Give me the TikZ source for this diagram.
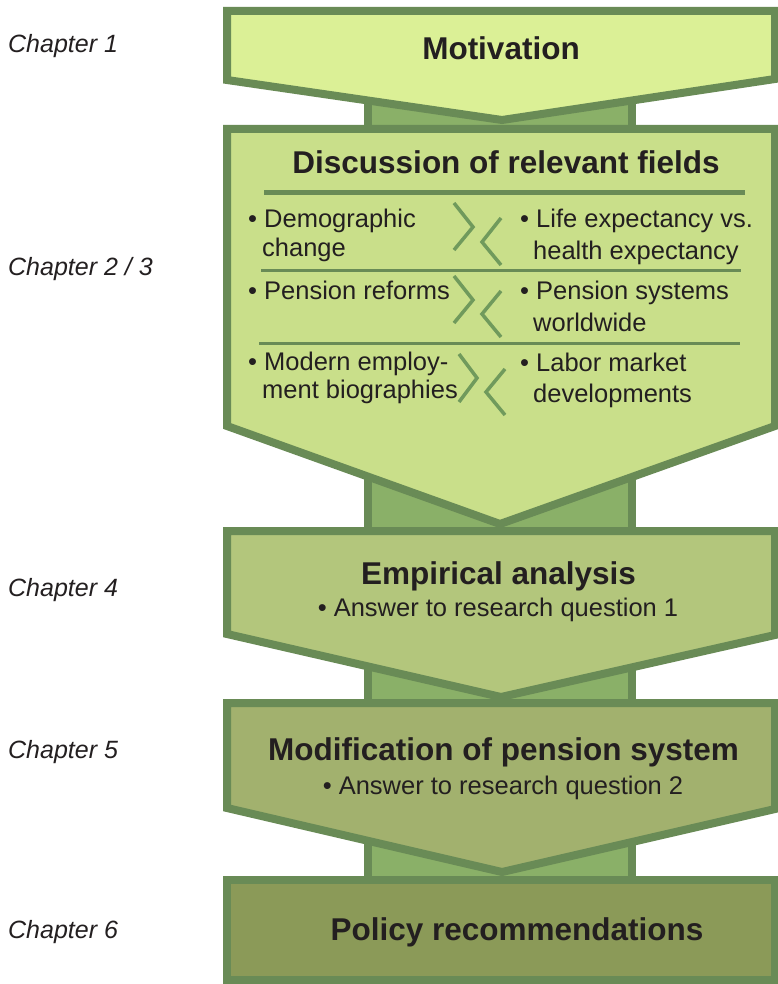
\documentclass[tikz,border=0pt]{standalone}
\usepackage{fontspec}
\setmainfont{Liberation Sans}
\definecolor{frame}{RGB}{105,139,86}
\definecolor{chevcol}{RGB}{112,154,92}
\definecolor{linkfill}{RGB}{138,176,104}
\definecolor{fillA}{RGB}{219,240,150}
\definecolor{fillB}{RGB}{201,223,138}
\definecolor{fillC}{RGB}{179,198,124}
\definecolor{fillD}{RGB}{162,177,110}
\definecolor{fillE}{RGB}{139,154,88}
\definecolor{ink}{RGB}{35,31,32}
\tikzset{
  stage/.style={draw=frame, line width=8pt, line join=miter},
  link/.style={draw=frame, fill=linkfill, line width=8pt},
  title/.style={font=\fontsize{31.5}{36}\selectfont\bfseries, text=ink, inner sep=0pt, anchor=base},
  subtitle/.style={font=\fontsize{25.5}{30}\selectfont, text=ink, inner sep=0pt, anchor=base},
  body/.style={font=\fontsize{25.5}{30}\selectfont, text=ink, inner sep=0pt, anchor=base west},
  chap/.style={font=\fontsize{25}{30}\selectfont\itshape, text=ink, inner sep=0pt, anchor=base west},
  chev/.style={draw=chevcol, line width=3.5pt, line join=miter},
}
\begin{document}
\begin{tikzpicture}[x=1pt,y=-1pt]
\fill[white] (0,0) rectangle (778,984);
\useasboundingbox (0,0) rectangle (778,984);

% connecting bars behind the stages
\draw[link] (368,60)  rectangle (632,129);
\draw[link] (368,400) rectangle (632,531);
\draw[link] (368,600) rectangle (632,703);
\draw[link] (368,780) rectangle (632,880);

% stages
\draw[stage, fill=fillA] (227,11) -- (775,11) -- (775,79) -- (502,120) -- (227,80) -- cycle;
\draw[stage, fill=fillB] (227,129) -- (775,129) -- (775,426) -- (500,524) -- (227,426) -- cycle;
\draw[stage, fill=fillC] (227,531) -- (775,531) -- (775,635) -- (501,697) -- (227,634) -- cycle;
\draw[stage, fill=fillD] (227,703) -- (775,703) -- (775,809) -- (502,872) -- (227,808) -- cycle;
\draw[stage, fill=fillE] (227,880) rectangle (775,980);

% titles
\node[title] (mot) at (501,60) {Motivation};
\node[title] (disc) at (506,174) {Discussion of relevant fields};
\node[title] (emp) at (498.5,584) {Empirical analysis};
\node[subtitle] (empq) at (498,616) {• Answer to research question 1};
\node[title] (mod) at (503.5,760) {Modification of pension system};
\node[subtitle] (modq) at (503,794) {• Answer to research question 2};
\node[title] (pol) at (517,940) {Policy recommendations};

% dividers in the discussion stage
\draw[draw=frame, line width=5pt] (264,192.5) -- (745,192.5);
\draw[draw=frame, line width=3pt] (261,270.5) -- (741,270.5);
\draw[draw=frame, line width=3pt] (259,343) -- (740,343);

% field pairs
\node[body] (l1a) at (248,228) {• Demographic};
\node[body] (l1b) at (262,256) {change};
\node[body] (r1a) at (520,228) {• Life expectancy vs.};
\node[body] (r1b) at (533,259) {health expectancy};
\node[body] (l2a) at (248,299) {• Pension reforms};
\node[body] (r2a) at (520,299) {• Pension systems};
\node[body] (r2b) at (533,331) {worldwide};
\node[body] (l3a) at (248,370) {• Modern employ-};
\node[body] (l3b) at (262,398) {ment biographies};
\node[body] (r3a) at (520,371) {• Labor market};
\node[body] (r3b) at (533,402) {developments};

% chevrons between the pairs
\draw[chev] (454,203) -- (473,227) -- (454,250);
\draw[chev] (501,218) -- (482,242) -- (501,265);
\draw[chev] (454,276) -- (473,300) -- (454,323);
\draw[chev] (501,291) -- (482,314) -- (501,337);
\draw[chev] (459,354) -- (477,378) -- (459,402);
\draw[chev] (505,369) -- (486,392) -- (505,415);

% chapter labels
\node[chap] (c1) at (8,53) {Chapter 1};
\node[chap] (c23) at (8,275) {Chapter 2 / 3};
\node[chap] (c4) at (8,596) {Chapter 4};
\node[chap] (c5) at (8,758) {Chapter 5};
\node[chap] (c6) at (8,938) {Chapter 6};
\end{tikzpicture}
\end{document}
